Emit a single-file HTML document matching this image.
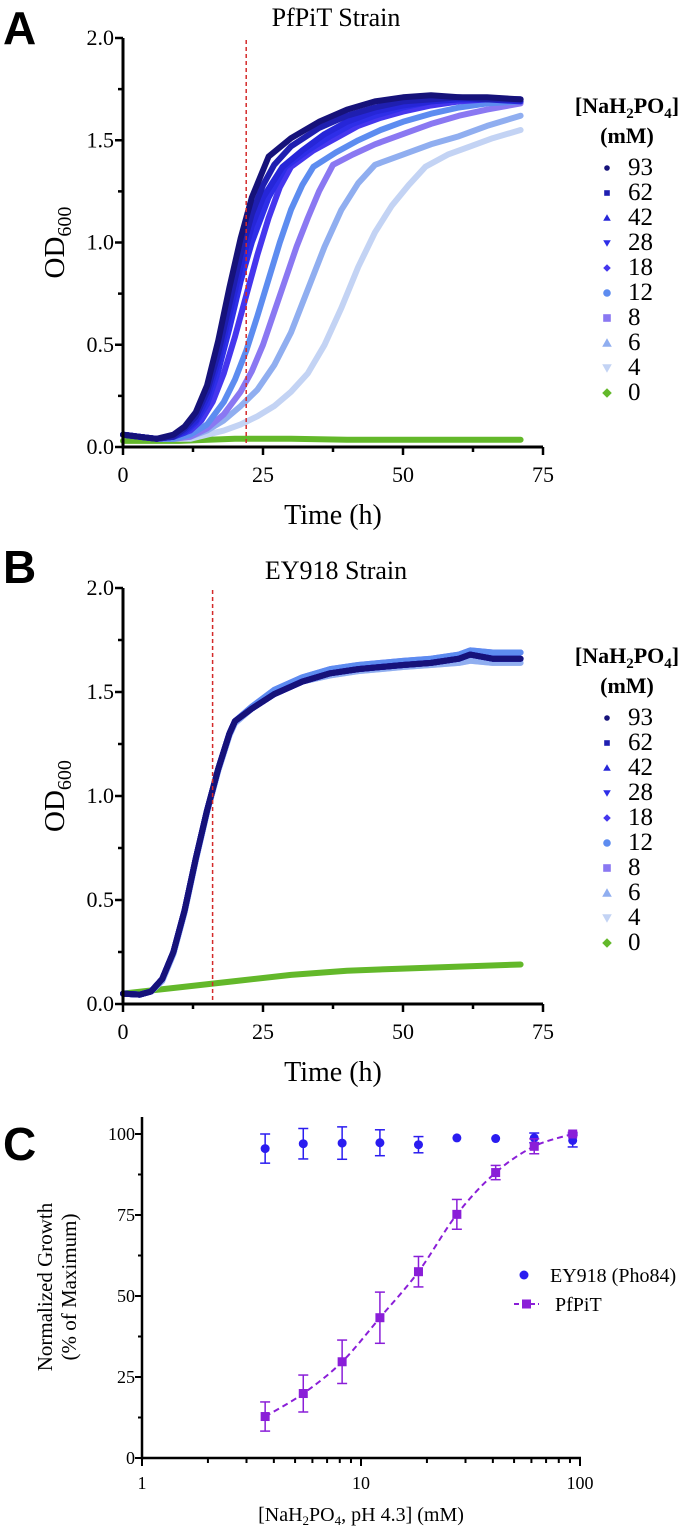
<!DOCTYPE html>
<html><head><meta charset="utf-8"><style>
html,body{margin:0;padding:0;background:#fff;}
svg{display:block;font-family:"Liberation Serif",serif;}
.lt{font-family:"Liberation Sans",sans-serif;font-weight:bold;}
</style></head><body>
<svg id="fig" width="688" height="1534" viewBox="0 0 688 1534"></svg>
<script>
// ---------- Panel A data ----------
const concLabels = ["93","62","42","28","18","12","8","6","4","0"];
const seriesColors = ["#16127a","#1f1fb0","#2626d8","#2e2ee8","#4536ee","#5d8cf0","#8a78f2","#90aef0","#c3d3f4","#63b82a"];
const markerShapes = ["circle","square","tri","tridown","diamond","circle","square","tri","tridown","diamond"];
const aT93=[0,3,6,9,11,13,15,17,19,21,23,26,30,35,40,45,50,55,60,65,71];
const aOD93=[.06,.05,.04,.06,.10,.17,.30,.52,.78,1.02,1.22,1.42,1.51,1.59,1.65,1.69,1.71,1.72,1.71,1.71,1.70];
const aT62=[0,3,6,9,11,13,15,17,19,21,23,25,27,30,35,40,45,50,55,60,65,71];
const aOD62=[.06,.05,.04,.05,.09,.15,.27,.46,.70,.94,1.14,1.28,1.38,1.47,1.56,1.62,1.66,1.69,1.70,1.71,1.70,1.70];
const aT42=[0,3,6,9,11,13,15,17,19,21,23,25,28.5,32,36,40,45,50,55,60,65,71];
const aOD42=[.06,.05,.04,.05,.08,.13,.24,.42,.65,.88,1.08,1.22,1.37,1.45,1.53,1.59,1.64,1.67,1.69,1.70,1.70,1.69];
const aT28=[0,3,6,9,11,13,15,17,19,21,23,26,29,33,37,41,45,50,55,60,65,71];
const aOD28=[.06,.05,.04,.05,.07,.12,.21,.37,.58,.81,1.00,1.22,1.37,1.45,1.52,1.58,1.62,1.66,1.69,1.70,1.70,1.70];
const aT18=[0,3,6,9,12,14,16,18,20,22,24,26,28,30,34,38,42,46,50,55,60,65,71];
const aOD18=[.06,.05,.04,.05,.08,.13,.22,.36,.54,.74,.94,1.12,1.27,1.37,1.45,1.51,1.57,1.61,1.64,1.67,1.69,1.70,1.70];
const aT12=[0,3,6,9,12,15,18,20,22,24,26,28,30,32,34,38,42,46,50,55,60,65,71];
const aOD12=[.06,.05,.04,.04,.06,.11,.22,.33,.47,.64,.82,1.00,1.16,1.28,1.37,1.44,1.50,1.55,1.59,1.63,1.66,1.68,1.69];
const aT8=[0,3,6,9,12,15,18,21,23,25,27,29,31,33,35,37.5,41,45,50,55,60,65,71];
const aOD8=[.06,.05,.04,.04,.05,.09,.16,.27,.37,.50,.66,.82,.98,1.12,1.25,1.38,1.43,1.48,1.53,1.58,1.62,1.65,1.68];
const aT6=[0,3,6,9,12,15,18,21,24,27,30,33,36,39,42,45,50,55,60,65,71];
const aOD6=[.06,.05,.04,.04,.05,.08,.13,.20,.28,.40,.56,.77,.98,1.16,1.29,1.38,1.43,1.48,1.52,1.57,1.62];
const aT4=[0,3,6,9,12,15,18,21,24,27,30,33,36,39,42,45,48,51,54,58,62,66,71];
const aOD4=[.06,.05,.04,.04,.04,.06,.08,.11,.15,.20,.27,.36,.50,.68,.88,1.05,1.18,1.28,1.37,1.43,1.47,1.51,1.55];
const aT0=[0,5,10,20,30,40,50,60,71];
const aOD0=[.03,.03,.03,.04,.04,.035,.035,.035,.035];
// ---------- Panel B data ----------
const bT=[0,3,5,7,9,11,13,15,17,19,20,23,27,32,37,42,50,55,60,62,66,71];
const bODdark=[.05,.045,.06,.12,.25,.45,.70,.93,1.13,1.30,1.36,1.42,1.49,1.55,1.59,1.61,1.63,1.64,1.66,1.68,1.66,1.66];
const bODmid=[.05,.045,.06,.12,.25,.45,.70,.93,1.13,1.30,1.36,1.43,1.51,1.57,1.61,1.63,1.65,1.66,1.68,1.70,1.69,1.69];
const bODlight=[.05,.045,.06,.11,.24,.44,.69,.92,1.12,1.29,1.35,1.42,1.49,1.55,1.58,1.60,1.62,1.63,1.64,1.65,1.64,1.64];
const bT0=[0,10,20,30,40,50,60,71];
const bOD0=[.05,.08,.11,.14,.16,.17,.18,.19];
// ---------- Panel C data ----------
const cConc=[3.65,5.45,8.2,12.2,18.3,27.4,41.2,61.8,92.6];
const eyMean=[95.5,97,97.2,97.3,96.7,98.8,98.6,98.8,98];
const eyErr=[4.5,4.7,5,4,2.5,0,0,1.5,2];
const pfMean=[12.8,19.9,29.7,43.3,57.5,75.2,88.1,96.2,100];
const pfErr=[4.5,5.7,6.7,7.9,4.7,4.6,2.2,2.3,0.5];
const yTicksA=[0,0.5,1.0,1.5,2.0];
const yTickLabelsA=["0.0","0.5","1.0","1.5","2.0"];
const xTicksA=[0,25,50,75];
const yTicksC=[0,25,50,75,100];
const xTicksC=[1,10,100];

const NS="http://www.w3.org/2000/svg";
const svg=document.getElementById('fig');
function mk(tag,attrs,parent){const e=document.createElementNS(NS,tag);for(const k in attrs)e.setAttribute(k,attrs[k]);(parent||svg).appendChild(e);return e;}
function txt(s,attrs,parent){const e=mk('text',attrs,parent);e.textContent=s;return e;}

function growthPanel(opts){
  const g=mk('g',{});
  
  
  const x0=123,x1=543,yb=opts.yb,yt=opts.yt;
  const sx=t=>x0+t*(x1-x0)/75;
  const sy=v=>yb-v*(yb-yt)/2;
  opts.series.forEach((s,i)=>{
    const pts=s.t.map((t,j)=>sx(t).toFixed(1)+','+sy(s.od[j]).toFixed(1)).join(' ');
    const p=mk('polyline',{points:pts,fill:'none',stroke:seriesColors[s.c],'stroke-width':6,'stroke-linejoin':'round','stroke-linecap':'round'},g);
    
    
  });
  const rl=mk('line',{x1:sx(opts.red),x2:sx(opts.red),y1:yt+2,y2:yb,stroke:'#d42a2a','stroke-width':1.5,'stroke-dasharray':'4,3'},g);
  
  
  const ax=mk('g',{},g);
  
  
  mk('line',{x1:x0,x2:x0,y1:yt,y2:yb+1.5,stroke:'#000','stroke-width':3},ax);
  mk('line',{x1:x0-1.5,x2:x1,y1:yb,y2:yb,stroke:'#000','stroke-width':3},ax);
  for(let v=0;v<=2.001;v+=0.25){const major=Math.abs(v*2-Math.round(v*2))<1e-6;mk('line',{x1:x0-(major?8:5),x2:x0,y1:sy(v),y2:sy(v),stroke:'#000','stroke-width':2.5},ax);}
  yTicksA.forEach((v,i)=>{const t=txt(yTickLabelsA[i],{x:x0-9,y:sy(v)+7,'text-anchor':'end','font-size':22},ax);});
  for(let v=0;v<=75;v+=12.5){const major=v%25===0;mk('line',{x1:sx(v),x2:sx(v),y1:yb,y2:yb+(major?8:5),stroke:'#000','stroke-width':2.5},ax);}
  xTicksA.forEach(v=>{const t=txt(String(v),{x:sx(v),y:yb+35,'text-anchor':'middle','font-size':22},ax);});
  const xt=txt('Time (h)',{x:333,y:yb+77,'text-anchor':'middle','font-size':28},g);
  
  const yl=mk('text',{transform:`translate(64,${(yb+yt)/2}) rotate(-90)`,'text-anchor':'middle','font-size':29},g);
  yl.innerHTML='OD<tspan font-size="20" dy="7">600</tspan>';
  
  const tt=txt(opts.title,{x:336,y:opts.titleY,'text-anchor':'middle','font-size':26},g);
  
  const lt=txt(opts.letter,{x:3,y:opts.letterY,'font-size':46,'class':'lt'},g);
  
  const lg=mk('g',{},g);
  
  
  const h=mk('text',{x:627,y:opts.legY,'text-anchor':'middle','font-size':22,'font-weight':'bold'},lg);
  h.innerHTML='[NaH<tspan font-size="15" dy="5">2</tspan><tspan dy="-5">PO</tspan><tspan font-size="15" dy="5">4</tspan><tspan dy="-5">]</tspan>';
  txt('(mM)',{x:627,y:opts.legY+30,'text-anchor':'middle','font-size':22,'font-weight':'bold'},lg);
  concLabels.forEach((c,i)=>{
    const y=opts.legY+62+i*25;
    const e=mk('g',{},lg);
    
    
    marker(e,markerShapes[i],607,y-7,i<5?2.8:3.8,seriesColors[i]);
    txt(c,{x:628,y:y,'font-size':25},e);
  });
}
function marker(p,shape,x,y,r,col){
  if(shape==='circle')mk('circle',{cx:x,cy:y,r:r,fill:col},p);
  else if(shape==='square')mk('rect',{x:x-r,y:y-r,width:2*r,height:2*r,fill:col},p);
  else if(shape==='tri')mk('polygon',{points:`${x},${y-r-1} ${x-r-1},${y+r} ${x+r+1},${y+r}`,fill:col},p);
  else if(shape==='tridown')mk('polygon',{points:`${x},${y+r+1} ${x-r-1},${y-r} ${x+r+1},${y-r}`,fill:col},p);
  else mk('polygon',{points:`${x},${y-r-1} ${x+r+1},${y} ${x},${y+r+1} ${x-r-1},${y}`,fill:col},p);
}
growthPanel({name:'panel-a-pfpit-growth',yb:447,yt:38,red:22,title:'PfPiT Strain',titleY:26,letter:'A',letterY:44,legY:113,
  series:[{t:aT0,od:aOD0,c:9},{t:aT4,od:aOD4,c:8},{t:aT6,od:aOD6,c:7},{t:aT8,od:aOD8,c:6},{t:aT12,od:aOD12,c:5},{t:aT18,od:aOD18,c:4},{t:aT28,od:aOD28,c:3},{t:aT42,od:aOD42,c:2},{t:aT62,od:aOD62,c:1},{t:aT93,od:aOD93,c:0}]});
growthPanel({name:'panel-b-ey918-growth',yb:1004,yt:588,red:16,title:'EY918 Strain',titleY:579,letter:'B',letterY:583,legY:663,
  series:[{t:bT0,od:bOD0,c:9},{t:bT,od:bODlight,c:8},{t:bT,od:bODlight,c:7},{t:bT,od:bODmid,c:6},{t:bT,od:bODmid,c:5},{t:bT,od:bODdark,c:4},{t:bT,od:bODdark,c:3},{t:bT,od:bODdark,c:2},{t:bT,od:bODdark,c:1},{t:bT,od:bODdark,c:0}]});

// ---------- Panel C ----------
(function(){
  const g=mk('g',{});
  
  
  const x0=142,dec=219,yb=1458,y100=1134;
  const sx=c=>x0+Math.log10(c)*dec;
  const sy=v=>yb-v*(yb-y100)/100;
  const ax=mk('g',{},g);
  
  
  mk('line',{x1:x0,x2:x0,y1:1117,y2:yb+1.5,stroke:'#000','stroke-width':2.5},ax);
  mk('line',{x1:x0-1,x2:sx(100)+1,y1:yb,y2:yb,stroke:'#000','stroke-width':2.5},ax);
  for(let v=0;v<=100;v+=12.5){const major=v%25===0;mk('line',{x1:x0-(major?7:4),x2:x0,y1:sy(v),y2:sy(v),stroke:'#000','stroke-width':2},ax);}
  yTicksC.forEach(v=>{const t=txt(String(v),{x:x0-7,y:sy(v)+6,'text-anchor':'end','font-size':18},ax);});
  for(let d=1;d<100;d*=10)for(let k=1;k<=10;k++){const v=d*k;const major=(k===1||k===10);mk('line',{x1:sx(v),x2:sx(v),y1:yb,y2:yb+(major?8:5),stroke:'#000','stroke-width':2},ax);}
  xTicksC.forEach(v=>{const t=txt(String(v),{x:sx(v),y:yb+31,'text-anchor':'middle','font-size':18},ax);});
  const xt=mk('text',{x:361,y:1521,'text-anchor':'middle','font-size':20},g);
  xt.innerHTML='[NaH<tspan font-size="13" dy="4">2</tspan><tspan dy="-4">PO</tspan><tspan font-size="13" dy="4">4</tspan><tspan dy="-4">, pH 4.3] (mM)</tspan>';
  
  const yl=mk('text',{transform:'translate(52,1287) rotate(-90)','text-anchor':'middle','font-size':21},g);
  yl.innerHTML='<tspan x="0" dy="0">Normalized Growth</tspan><tspan x="0" dy="24">(% of Maximum)</tspan>';
  
  const lt=txt('C',{x:3,y:1160,'font-size':46,'class':'lt'},g);
  
  const P=cConc.map((c,i)=>[sx(c),sy(pfMean[i])]);
  let d='M'+P[0][0]+','+P[0][1];
  for(let i=0;i<P.length-1;i++){const p0=P[i-1]||P[i],p1=P[i],p2=P[i+1],p3=P[i+2]||P[i+1];
    d+=` C${p1[0]+(p2[0]-p0[0])/6},${p1[1]+(p2[1]-p0[1])/6} ${p2[0]-(p3[0]-p1[0])/6},${p2[1]-(p3[1]-p1[1])/6} ${p2[0]},${p2[1]}`;}
  const fit=mk('path',{d:d,fill:'none',stroke:'#8a1ed8','stroke-width':2,'stroke-dasharray':'6,4'},g);
  
  function errbar(x,m,e,col,p){if(e<=0)return;mk('line',{x1:x,x2:x,y1:sy(m+e),y2:sy(m-e),stroke:col,'stroke-width':1.5},p);
    mk('line',{x1:x-5,x2:x+5,y1:sy(m+e),y2:sy(m+e),stroke:col,'stroke-width':1.5},p);mk('line',{x1:x-5,x2:x+5,y1:sy(m-e),y2:sy(m-e),stroke:col,'stroke-width':1.5},p);}
  cConc.forEach((c,i)=>{
    const p=mk('g',{},g);
    
    
    errbar(sx(c),eyMean[i],eyErr[i],'#2a1cf0',p);
    mk('circle',{cx:sx(c),cy:sy(eyMean[i]),r:4.5,fill:'#2a1cf0'},p);
  });
  cConc.forEach((c,i)=>{
    const p=mk('g',{},g);
    
    
    errbar(sx(c),pfMean[i],pfErr[i],'#8a1ed8',p);
    mk('rect',{x:sx(c)-4.5,y:sy(pfMean[i])-4.5,width:9,height:9,fill:'#8a1ed8'},p);
  });
  const lg=mk('g',{},g);
  
  
  const e1=mk('g',{},lg);
  
  
  mk('circle',{cx:524,cy:1275,r:4.5,fill:'#2a1cf0'},e1);
  txt('EY918 (Pho84)',{x:550,y:1282,'font-size':20},e1);
  const e2=mk('g',{},lg);
  
  
  mk('line',{x1:514,x2:539,y1:1304,y2:1304,stroke:'#8a1ed8','stroke-width':2,'stroke-dasharray':'5,3'},e2);
  mk('rect',{x:522,y:1299.5,width:9,height:9,fill:'#8a1ed8'},e2);
  txt('PfPiT',{x:555,y:1311,'font-size':20},e2);
})();
</script>
</body></html>
